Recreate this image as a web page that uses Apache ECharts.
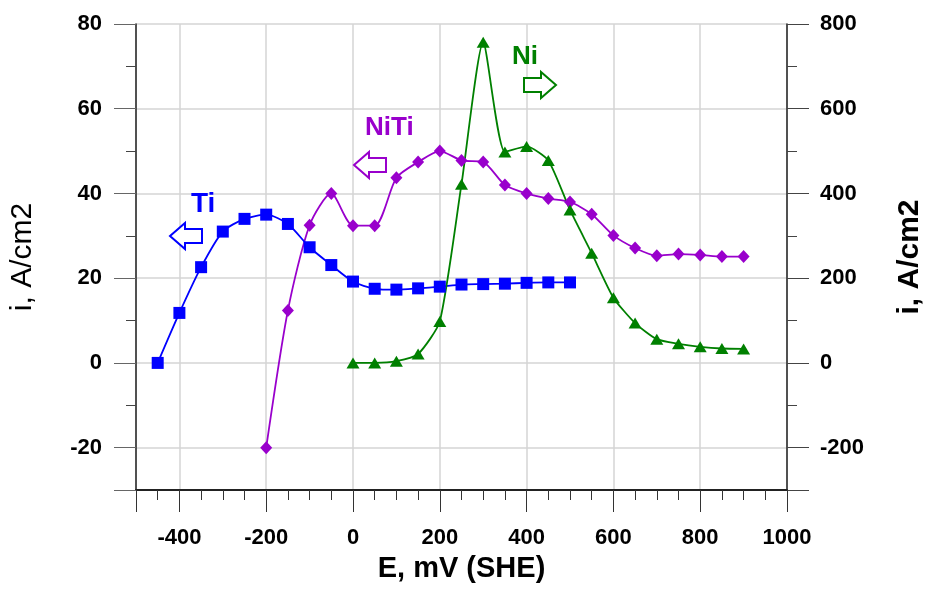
<!DOCTYPE html>
<html>
<head>
<meta charset="utf-8">
<script src="https://cdn.jsdelivr.net/npm/echarts@6/dist/echarts.min.js"></script>
<style>
  html, body { margin: 0; padding: 0; background: #fff; }
  #chart { width: 933px; height: 590px; }
</style>
</head>
<body>
<div id="chart"></div>
<script>
// potentials (mV vs SHE) and currents
const tiPotential = [-450, -400, -350, -300, -250, -200, -150, -100, -50, 0, 50, 100, 150, 200, 250, 300, 350, 400, 450, 500]
const tiCurrent = [0, 11.8, 22.6, 31, 34, 35, 32.8, 27.3, 23.1, 19.2, 17.5, 17.3, 17.6, 18, 18.5, 18.6, 18.7, 18.9, 19, 19]

const nitiPotential = [-200, -150, -100, -50, 0, 50, 100, 150, 200, 250, 300, 350, 400, 450, 500, 550, 600, 650, 700, 750, 800, 850, 900]
const nitiCurrent = [-20, 12.4, 32.5, 40, 32.4, 32.4, 43.7, 47.4, 50, 47.8, 47.4, 42, 40, 38.8, 38, 35.1, 30.1, 27.1, 25.3, 25.7, 25.5, 25.1, 25.1]

const niPotential = [0, 50, 100, 150, 200, 250, 300, 350, 400, 450, 500, 550, 600, 650, 700, 750, 800, 850, 900]
const niCurrent = [0, 0, 4, 21, 98, 422, 757, 498, 511, 478, 361, 259, 154, 94, 56, 45, 38, 34, 33]

const zip = (xs, ys) => xs.map((x, i) => [x, ys[i]])

const chart = echarts.init(document.getElementById('chart'))

const font = 'Liberation Sans, Arial, sans-serif'
const tiColor = '#0000ff'
const nitiColor = '#9900cc'
const niColor = '#008000'

const tickLabel = {
  color: '#000',
  fontWeight: 'bold',
  fontSize: 22,
  fontFamily: font,
  showMinLabel: false,
  formatter: v => String(v)
}

// hollow block arrow, pointing left (flip for right)
const arrow = (x, y, color, right) => {
  const pts = [[0, 13], [15, 0], [15, 6], [32, 6], [32, 20], [15, 20], [15, 26]]
  return {
    type: 'polygon',
    x: x,
    y: y,
    shape: { points: right ? pts.map(p => [32 - p[0], p[1]]) : pts },
    style: { fill: '#fff', stroke: color, lineWidth: 2 },
    z: 100
  }
}

const option = {
  animation: false,
  backgroundColor: '#fff',
  grid: { left: 136, right: 144, top: 24, bottom: 100 },
  xAxis: {
    type: 'value',
    min: -500,
    max: 1000,
    splitNumber: 7,
    name: 'E, mV (SHE)',
    nameLocation: 'middle',
    nameGap: 64,
    nameTextStyle: { color: '#000', fontWeight: 'bold', fontSize: 29, fontFamily: font },
    axisLine: { onZero: false, lineStyle: { color: '#222', width: 2 } },
    axisTick: { length: 22, lineStyle: { color: '#333' } },
    minorTick: { show: true, splitNumber: 4, length: 10, lineStyle: { color: '#333' } },
    axisLabel: Object.assign({ margin: 37 }, tickLabel),
    splitLine: { show: true, lineStyle: { color: '#d4d4d4', width: 1.5 } }
  },
  yAxis: [
    {
      type: 'value',
      min: -30,
      max: 80,
      splitNumber: 5,
      name: 'i, A/cm2',
      nameLocation: 'middle',
      nameRotate: 90,
      nameGap: 98,
      nameTextStyle: { color: '#000', fontSize: 30, fontFamily: font },
      axisLine: { show: true, onZero: false, lineStyle: { color: '#222', width: 1.5 } },
      axisTick: { length: 22, lineStyle: { color: '#666' } },
      minorTick: { show: true, splitNumber: 2, length: 10, lineStyle: { color: '#444' } },
      axisLabel: Object.assign({ margin: 34 }, tickLabel),
      splitLine: { show: true, lineStyle: { color: '#d4d4d4', width: 1.5 } }
    },
    {
      type: 'value',
      position: 'right',
      min: -300,
      max: 800,
      splitNumber: 5,
      name: 'i, A/cm2',
      nameLocation: 'middle',
      nameRotate: 90,
      nameGap: 108,
      nameTextStyle: { color: '#000', fontWeight: 'bold', fontSize: 30, fontFamily: font },
      axisLine: { show: true, onZero: false, lineStyle: { color: '#222', width: 1.5 } },
      axisTick: { length: 22, lineStyle: { color: '#444' } },
      minorTick: { show: true, splitNumber: 2, length: 10, lineStyle: { color: '#444' } },
      axisLabel: Object.assign({ margin: 33 }, tickLabel),
      splitLine: { show: false }
    }
  ],
  series: [
    {
      name: 'NiTi',
      type: 'line',
      yAxisIndex: 0,
      data: zip(nitiPotential, nitiCurrent),
      smooth: 0.25,
      symbol: 'diamond',
      symbolSize: [12, 13],
      color: nitiColor,
      lineStyle: { width: 1.8 }
    },
    {
      name: 'Ti',
      type: 'line',
      yAxisIndex: 0,
      data: zip(tiPotential, tiCurrent),
      smooth: 0.25,
      symbol: 'rect',
      symbolSize: 12,
      color: tiColor,
      lineStyle: { width: 1.8 }
    },
    {
      name: 'Ni',
      type: 'line',
      yAxisIndex: 1,
      data: zip(niPotential, niCurrent),
      smooth: 0.2,
      symbol: 'triangle',
      symbolSize: [13, 11],
      color: niColor,
      lineStyle: { width: 1.8 }
    }
  ],
  graphic: [
    { type: 'text', x: 191, y: 190, z: 100, style: { text: 'Ti', fill: tiColor, font: 'bold 28px ' + font } },
    arrow(170, 223, tiColor, false),
    { type: 'text', x: 365, y: 115, z: 100, style: { text: 'NiTi', fill: nitiColor, font: 'bold 26px ' + font } },
    arrow(354, 152, nitiColor, false),
    { type: 'text', x: 512, y: 44, z: 100, style: { text: 'Ni', fill: niColor, font: 'bold 26px ' + font } },
    arrow(524, 72, niColor, true)
  ]
}

chart.setOption(option)
</script>
</body>
</html>
